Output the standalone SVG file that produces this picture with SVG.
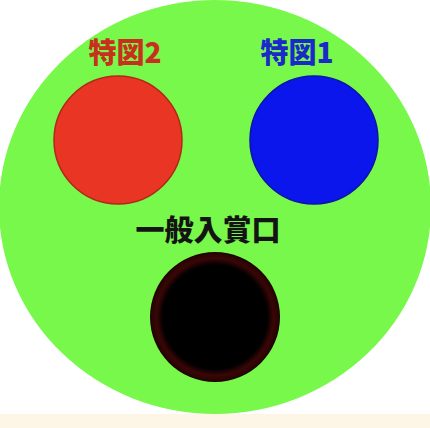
<svg xmlns="http://www.w3.org/2000/svg" width="430" height="428" viewBox="0 0 430 428">
<style>
.lbl{font-family:"Noto Sans CJK JP","Liberation Sans",sans-serif;font-weight:900;text-anchor:middle}
</style>
<defs>
<radialGradient id="hole" cx="0.5" cy="0.5" r="0.5">
<stop offset="0.8" stop-color="#000000"/>
<stop offset="0.9" stop-color="#3a0606"/>
<stop offset="0.97" stop-color="#2a0404"/>
<stop offset="1" stop-color="#1a0202"/>
</radialGradient>
</defs>
<rect x="0" y="0" width="430" height="428" fill="#ffffff"/>
<rect x="0" y="414" width="430" height="14" fill="#fdf6e6"/>
<g id="board"><ellipse cx="215" cy="207" rx="216" ry="207" fill="#78f84a"/></g>
<g id="tokuzu2">
<circle cx="118" cy="140" r="64" fill="#e83524" stroke="#b02818" stroke-width="1.5"/>
<text class="lbl" x="125" y="63" font-size="28" fill="#c8301e">特図2</text>
</g>
<g id="tokuzu1">
<circle cx="314" cy="140" r="64" fill="#0a16ec" stroke="#0a14a8" stroke-width="1.5"/>
<text class="lbl" x="297" y="63" font-size="28" fill="#1a2ac8">特図1</text>
</g>
<g id="ippan">
<circle cx="215" cy="317" r="65" fill="url(#hole)"/>
<text class="lbl" x="208" y="241" font-size="29" fill="#141414">一般入賞口</text>
</g>
<g id="connectors"/>
</svg>
